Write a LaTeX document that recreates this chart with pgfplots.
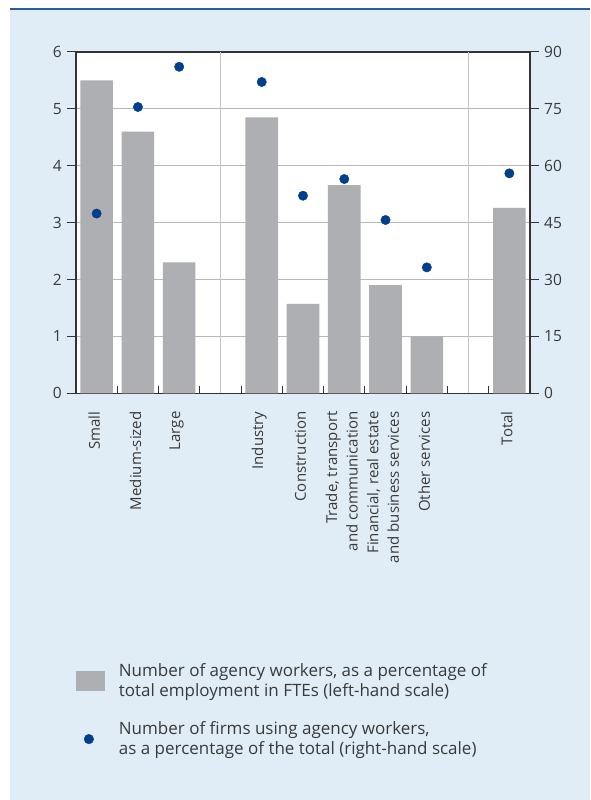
\documentclass[border=0pt]{standalone}
\usepackage{pgfplots}
\pgfplotsset{compat=1.18}
\usepackage{fontspec}
\setmainfont{Open Sans}
\definecolor{bgblue}{HTML}{E0EDF6}
\definecolor{topblue}{HTML}{2A5CA0}
\definecolor{bargrey}{HTML}{AEAFB3}
\definecolor{dotblue}{HTML}{003F8C}
\definecolor{txt}{HTML}{3A3A3A}
\definecolor{gridgrey}{HTML}{B8B8B8}
\definecolor{axisc}{HTML}{333333}
\begin{document}
\fontsize{15}{20.7}\selectfont
\begin{tikzpicture}
\useasboundingbox (0pt,0pt) rectangle (590pt,800pt);
\fill[bgblue] (10pt,0pt) rectangle (590pt,790pt);
\fill[topblue] (10pt,789.8pt) rectangle (590pt,791.6pt);
\begin{axis}[
  at={(76pt,406.7pt)}, anchor=south west, scale only axis,
  width=454pt, height=341.3pt,
  xmin=-0.5, xmax=10.5, ymin=0, ymax=6,
  axis background/.style={fill=white},
  axis line style={draw=axisc, line width=1.2pt},
  ybar, bar width=0.79,
  xtick={0,1,2,4,5,6,7,8,10},
  xticklabels={Small, Medium-sized, Large, Industry, Construction, {Trade, transport\\and communication}, {Financial, real estate\\and business services}, Other services, Total},
  xticklabel style={rotate=90, anchor=east, align=right, inner xsep=9pt, yshift=2.5pt, font=\fontsize{15}{20.5}\selectfont, text=txt},
  minor xtick={0.5,1.5,...,9.5},
  minor tick length=7pt,
  minor x tick style={yshift=7pt, draw=axisc, line width=1pt},
  major x tick style={draw=none},
  extra x ticks={3,9},
  extra x tick labels={},
  extra x tick style={grid=major, major x grid style={draw=gridgrey!80, line width=1pt}},
  xtick pos=left, ytick pos=left,
  ytick={0,...,6},
  tick align=outside,
  major tick length=9pt,
  y tick style={draw=axisc, line width=1pt},
  ymajorgrids,
  major y grid style={draw=gridgrey, line width=1pt},
  yticklabel style={font=\fontsize{15.5}{20.7}\selectfont, text=txt},
  /pgf/number format/assume math mode=true,
  legend style={at={(axis description cs:0.0,-0.791)}, anchor=north west, draw=none, fill=none,
    font=\fontsize{17}{20.5}\selectfont, text=txt, row sep=22pt, column sep=14pt, inner sep=0pt,
    nodes={inner sep=0pt}},
  legend cell align=left,
  legend style={cells={align=left}},
]
\addplot[fill=bargrey, draw=none,
  legend image code/.code={\fill[bargrey] (0pt,-10pt) rectangle (28.7pt,10pt);}]
  coordinates {(0,5.5)(1,4.6)(2,2.3)(4,4.85)(5,1.57)(6,3.66)(7,1.90)(8,1.0)(10,3.26)};
\addlegendentry{Number of agency workers, as a percentage of\\total employment in FTEs (left-hand scale)}
\addlegendimage{legend image code/.code={\path[draw=none,fill=none] (0pt,-10pt) rectangle (28.7pt,10pt); \fill[dotblue] (12.7pt,0pt) circle (4.8pt);}}
\addlegendentry{Number of firms using agency workers,\\as a percentage of the total (right-hand scale)}
\end{axis}
\begin{axis}[
  at={(76pt,406.7pt)}, anchor=south west, scale only axis,
  width=454pt, height=341.3pt,
  xmin=-0.5, xmax=10.5, ymin=0, ymax=90,
  axis x line=none, axis y line*=right,
  axis line style={draw=axisc, line width=1.2pt},
  ytick={0,15,...,90},
  tick align=outside, major tick length=9pt,
  y tick style={draw=axisc, line width=1pt},
  yticklabel style={font=\fontsize{15.5}{20.7}\selectfont, text=txt},
  /pgf/number format/assume math mode=true,
]
\addplot[only marks, mark=*, mark size=4.7pt, color=dotblue]
  coordinates {(0,47.4)(1,75.5)(2,86.1)(4,82.1)(5,52.1)(6,56.5)(7,45.7)(8,33.2)(10,58.0)};
\end{axis}
\end{tikzpicture}
\end{document}
